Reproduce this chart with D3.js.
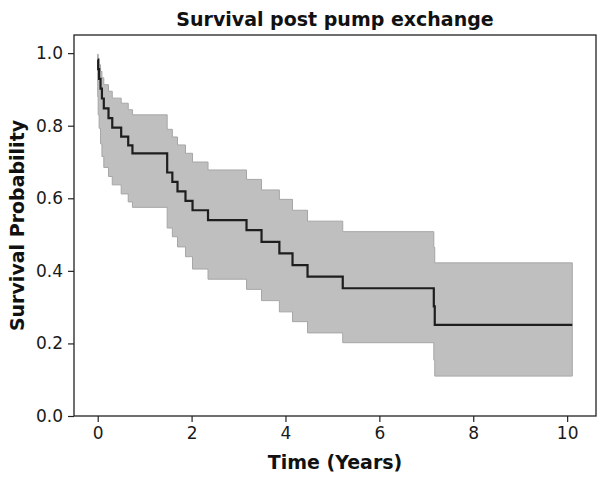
<!DOCTYPE html>
<html>
    <head>
        <title>Survival post pump exchange</title>
        <style>
            body {
                margin: 0;
                background: white;
            }
            .tick text {
                font-family: "DejaVu Sans", sans-serif;
                font-size: 17px;
                fill: #1a1a1a;
            }
            .axis-label, .title {
                font-family: "DejaVu Sans", sans-serif;
                font-weight: bold;
                font-size: 19px;
                fill: #111;
            }
        </style>
        <script src="https://cdnjs.cloudflare.com/ajax/libs/d3/7.8.5/d3.min.js" charset="utf-8"></script>
    </head>
    <body>
        <div class="ChartContainer"></div>
        <script>
            // Kaplan-Meier estimate (event times in years) with 95% CI
            const times    = [0.00, 0.01, 0.03, 0.06, 0.09, 0.13, 0.23, 0.31, 0.50, 0.65, 0.74,
                              1.48, 1.59, 1.70, 1.87, 2.02, 2.35, 3.17, 3.49, 3.87, 4.15, 4.47, 5.22, 7.16, 7.18];
            const survival = [0.982, 0.956, 0.929, 0.902, 0.875, 0.848, 0.821, 0.795, 0.770, 0.746, 0.724,
                              0.671, 0.645, 0.619, 0.593, 0.567, 0.540, 0.512, 0.480, 0.448, 0.416, 0.384, 0.352, 0.302, 0.251];
            const ciUpper  = [0.997, 0.985, 0.968, 0.950, 0.932, 0.913, 0.895, 0.876, 0.862, 0.844, 0.830,
                              0.790, 0.769, 0.747, 0.724, 0.700, 0.678, 0.652, 0.623, 0.597, 0.567, 0.537, 0.508, 0.465, 0.422];
            const ciLower  = [0.880, 0.830, 0.793, 0.750, 0.715, 0.685, 0.660, 0.637, 0.612, 0.590, 0.575,
                              0.518, 0.494, 0.466, 0.439, 0.405, 0.377, 0.349, 0.318, 0.287, 0.260, 0.229, 0.202, 0.154, 0.110];
            const lastTime = 10.11;
            const xTicks = [0, 2, 4, 6, 8, 10];
            const yTicks = [0.0, 0.2, 0.4, 0.6, 0.8, 1.0];

            const w = 606;
            const h = 479;
            const padLeft = 74, padRight = 596, padTop = 35, padBottom = 416;

            const data = times.map((t, i) => ({t: t, s: survival[i], up: ciUpper[i], lo: ciLower[i]}));
            const lastRow = data[data.length - 1];
            data.push({t: lastTime, s: lastRow.s, up: lastRow.up, lo: lastRow.lo});

            const svg = d3.select(".ChartContainer")
                .append("svg")
                .attr("width", w)
                .attr("height", h);

            const xScale = d3.scaleLinear()
                .domain([-0.505, 10.615])
                .range([padLeft, padRight]);

            const yScale = d3.scaleLinear()
                .domain([0, 1.05])
                .range([padBottom, padTop]);

            const band = d3.area()
                .curve(d3.curveStepAfter)
                .x(d => xScale(d.t))
                .y0(d => yScale(d.lo))
                .y1(d => yScale(d.up));

            svg.append("path")
                .datum(data)
                .attr("d", band)
                .attr("fill", "#bfbfbf")
                .attr("stroke", "#a6a6a6")
                .attr("stroke-width", 1);

            const line = d3.line()
                .curve(d3.curveStepAfter)
                .x(d => xScale(d.t))
                .y(d => yScale(d.s));

            svg.append("path")
                .datum(data)
                .attr("d", line)
                .attr("fill", "none")
                .attr("stroke", "#1e1e1e")
                .attr("stroke-width", 2.2);

            const xAxis = d3.axisBottom(xScale)
                .tickValues(xTicks)
                .tickFormat(d3.format("d"))
                .tickSizeOuter(0)
                .tickSize(6)
                .tickPadding(5);

            const yAxis = d3.axisLeft(yScale)
                .tickValues(yTicks)
                .tickFormat(d3.format(".1f"))
                .tickSizeOuter(0)
                .tickSize(6)
                .tickPadding(5);

            const gx = svg.append("g")
                .attr("id", "x-axis")
                .attr("transform", "translate(0," + padBottom + ")")
                .call(xAxis);

            const gy = svg.append("g")
                .attr("id", "y-axis")
                .attr("transform", "translate(" + padLeft + ",0)")
                .call(yAxis);

            gx.select(".domain").remove();
            gy.select(".domain").remove();
            svg.selectAll(".tick line").attr("stroke", "#222").attr("stroke-width", 1.2);

            // plot frame
            svg.append("rect")
                .attr("x", padLeft)
                .attr("y", padTop)
                .attr("width", padRight - padLeft)
                .attr("height", padBottom - padTop)
                .attr("fill", "none")
                .attr("stroke", "#222")
                .attr("stroke-width", 1.3);

            svg.append("text")
                .attr("class", "title")
                .attr("x", (padLeft + padRight) / 2)
                .attr("y", 26)
                .attr("text-anchor", "middle")
                .text("Survival post pump exchange");

            svg.append("text")
                .attr("class", "axis-label")
                .attr("x", (padLeft + padRight) / 2)
                .attr("y", 469)
                .attr("text-anchor", "middle")
                .text("Time (Years)");

            svg.append("text")
                .attr("class", "axis-label")
                .attr("transform", "translate(24," + (padTop + padBottom) / 2 + ") rotate(-90)")
                .attr("text-anchor", "middle")
                .text("Survival Probability");
        </script>
    </body>
</html>
